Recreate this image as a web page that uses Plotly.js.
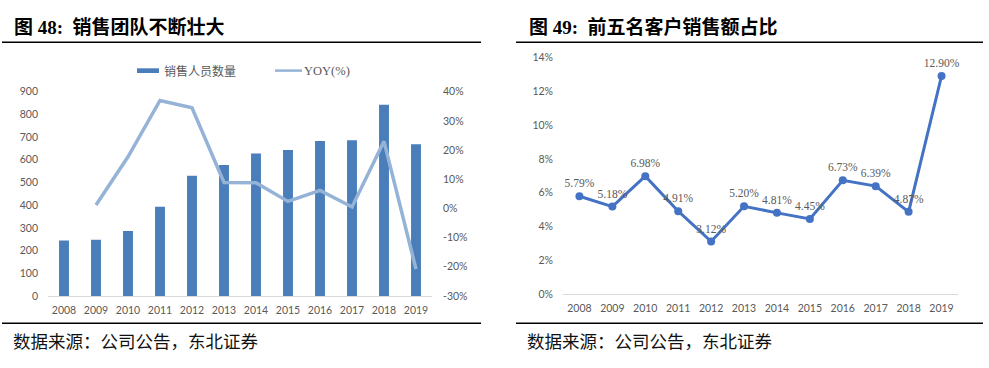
<!DOCTYPE html>
<html>
<head>
<meta charset="utf-8">
<script src="https://cdn.plot.ly/plotly-3.0.1.min.js"></script>
<style>
  html, body { margin: 0; padding: 0; background: #fff; }
  #chart { width: 989px; height: 368px; }
</style>
</head>
<body>
<div id="chart"></div>
<script>
// Years shared by both panels
const years = ['2008', '2009', '2010', '2011', '2012', '2013', '2014', '2015', '2016', '2017', '2018', '2019'];

// Fig. 48: sales headcount (bars) and its year-on-year change in % (line)
const salesStaff = [245, 248, 286, 393, 530, 577, 628, 643, 683, 686, 843, 668];
const staffYoY = [null, 1.2, 17.7, 37.0, 34.5, 8.9, 8.8, 2.4, 6.2, 0.5, 23.0, -20.8];

// Fig. 49: share of revenue from the top five customers, in %
const topFiveShare = [5.79, 5.18, 6.98, 4.91, 3.12, 5.20, 4.81, 4.45, 6.73, 6.39, 4.87, 12.90];

// Axis ticks
const staffTicks = [0, 100, 200, 300, 400, 500, 600, 700, 800, 900];
const yoyTicks = [-30, -20, -10, 0, 10, 20, 30, 40];
const yoyTickText = ['-30%', '-20%', '-10%', '0%', '10%', '20%', '30%', '40%'];
const shareTicks = [0, 2, 4, 6, 8, 10, 12, 14];
const shareTickText = ['0%', '2%', '4%', '6%', '8%', '10%', '12%', '14%'];

// Text
const leftTitle = '图 48:  销售团队不断壮大';
const rightTitle = '图 49:  前五名客户销售额占比';
const sourceNote = '数据来源：公司公告，东北证券';
const staffName = '销售人员数量';
const yoyName = 'YOY(%)';

// Page geometry helpers (pixels -> paper fractions)
const W = 989, H = 368;
const px = v => v / W;
const py = v => 1 - v / H;

const tickFont = { family: 'Lato, "Open Sans", sans-serif', size: 10.5, color: '#595959' };
const cjk = '"Noto Sans CJK SC", sans-serif';
const serifCjk = '"Liberation Serif", "Noto Sans CJK SC", serif';

const traces = [
  {
    type: 'bar', name: staffName, x: years, y: salesStaff,
    xaxis: 'x', yaxis: 'y', width: 0.31,
    marker: { color: '#4a7ebb' }, hoverinfo: 'x+y'
  },
  {
    type: 'scatter', mode: 'lines', name: yoyName, x: years, y: staffYoY,
    xaxis: 'x', yaxis: 'y2', connectgaps: false,
    line: { color: '#95b3d7', width: 3.5 }
  },
  {
    type: 'scatter', mode: 'lines+markers+text', name: '前五名客户销售额占比',
    x: years, y: topFiveShare, xaxis: 'x2', yaxis: 'y3',
    text: topFiveShare.map(v => v.toFixed(2) + '%'),
    textposition: 'top center', cliponaxis: false,
    textfont: { family: '"Liberation Serif", serif', size: 11.5, color: '#595959' },
    line: { color: '#4472c4', width: 3 },
    marker: { color: '#4472c4', size: 8 }
  }
];

const baseAxis = {
  showgrid: false, zeroline: false, ticks: '', fixedrange: true, tickfont: tickFont
};

const layout = {
  width: W, height: H,
  margin: { l: 0, r: 0, t: 0, b: 0 },
  paper_bgcolor: '#fff', plot_bgcolor: 'rgba(0,0,0,0)',
  showlegend: false,
  bargap: 0.69,
  xaxis: Object.assign({}, baseAxis, {
    domain: [px(48), px(432)], anchor: 'y', type: 'category', range: [-0.5, 11.5],
    showline: true, linecolor: '#d9d9d9', linewidth: 1, ticklabelstandoff: 4
  }),
  yaxis: Object.assign({}, baseAxis, {
    domain: [py(296), py(91.7)], anchor: 'x', range: [0, 900],
    tickvals: staffTicks, showline: false, ticklabelstandoff: 9
  }),
  yaxis2: Object.assign({}, baseAxis, {
    overlaying: 'y', side: 'right', anchor: 'x', range: [-30, 40],
    tickvals: yoyTicks, ticktext: yoyTickText, showline: false, ticklabelstandoff: 10
  }),
  xaxis2: Object.assign({}, baseAxis, {
    domain: [px(563), px(958)], anchor: 'y3', type: 'category', range: [-0.5, 11.5],
    showline: true, linecolor: '#d9d9d9', linewidth: 1, ticklabelstandoff: 4
  }),
  yaxis3: Object.assign({}, baseAxis, {
    domain: [py(294.3), py(57.3)], anchor: 'x2', range: [0, 14],
    tickvals: shareTicks, ticktext: shareTickText, showline: false, ticklabelstandoff: 9
  }),
  shapes: [
    // rules under the titles and above the source notes
    { type: 'line', xref: 'paper', yref: 'paper', x0: px(2), x1: px(481), y0: py(42.3), y1: py(42.3), line: { color: '#000', width: 1.5 } },
    { type: 'line', xref: 'paper', yref: 'paper', x0: px(516), x1: px(983), y0: py(42.3), y1: py(42.3), line: { color: '#000', width: 1.5 } },
    { type: 'line', xref: 'paper', yref: 'paper', x0: px(2), x1: px(481), y0: py(323.3), y1: py(323.3), line: { color: '#000', width: 1.5 } },
    { type: 'line', xref: 'paper', yref: 'paper', x0: px(516), x1: px(983), y0: py(323.3), y1: py(323.3), line: { color: '#000', width: 1.5 } },
    // legend keys for fig. 48
    { type: 'rect', xref: 'paper', yref: 'paper', x0: px(137), x1: px(159), y0: py(73), y1: py(68.3), fillcolor: '#4a7ebb', line: { width: 0 } },
    { type: 'line', xref: 'paper', yref: 'paper', x0: px(275), x1: px(302), y0: py(70.6), y1: py(70.6), line: { color: '#95b3d7', width: 2.5 } }
  ],
  annotations: [
    { text: '<b>' + leftTitle + '</b>', xref: 'paper', yref: 'paper', x: px(12), y: py(27.5), xanchor: 'left', yanchor: 'middle', showarrow: false,
      font: { family: serifCjk, size: 19, color: '#000' } },
    { text: '<b>' + rightTitle + '</b>', xref: 'paper', yref: 'paper', x: px(527), y: py(27.5), xanchor: 'left', yanchor: 'middle', showarrow: false,
      font: { family: serifCjk, size: 19, color: '#000' } },
    { text: sourceNote, xref: 'paper', yref: 'paper', x: px(11), y: py(340), xanchor: 'left', yanchor: 'middle', showarrow: false,
      font: { family: cjk, size: 17.5, color: '#111' } },
    { text: sourceNote, xref: 'paper', yref: 'paper', x: px(525), y: py(340), xanchor: 'left', yanchor: 'middle', showarrow: false,
      font: { family: cjk, size: 17.5, color: '#111' } },
    { text: staffName, xref: 'paper', yref: 'paper', x: px(162), y: py(70.6), xanchor: 'left', yanchor: 'middle', showarrow: false,
      font: { family: cjk, size: 12, color: '#595959' } },
    { text: yoyName, xref: 'paper', yref: 'paper', x: px(302), y: py(70.6), xanchor: 'left', yanchor: 'middle', showarrow: false,
      font: { family: '"Liberation Serif", serif', size: 12.5, color: '#595959' } }
  ]
};

Plotly.newPlot('chart', traces, layout, { displayModeBar: false, staticPlot: true });
</script>
</body>
</html>
